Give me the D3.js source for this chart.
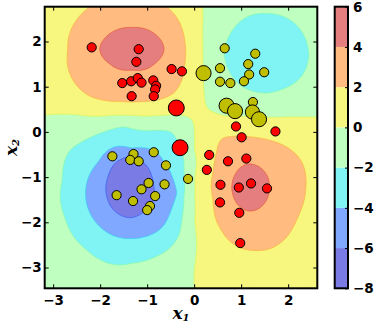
<!DOCTYPE html>
<html>
<head>
<meta charset="utf-8">
<script src="https://cdn.jsdelivr.net/npm/d3@7/dist/d3.min.js"></script>
<style>
  body { margin: 0; background: #fff; }
  text { font-family: "DejaVu Sans", sans-serif; font-weight: bold; }
</style>
</head>
<body>
<div id="main"></div>
<script>
// class +1 samples (red); weight 1 = normal marker, bigger = big marker
const redX = [-2.18, -1.18, -1.23, -0.48, -0.26, -1.53, -1.34, -1.20, -1.12, -0.87, -0.81, -0.83, -0.86, -1.33, -0.38, -0.30,
  0.89, 1.73, 1.01, 0.32, 0.72, 1.11, 0.27, 0.56, 0.95, 1.21, 1.55, 0.55, 0.96, 0.98];
const redY = [1.87, 1.83, 1.55, 1.39, 1.34, 1.08, 1.12, 1.19, 1.09, 1.14, 1.02, 0.94, 0.79, 0.79, 0.53, -0.35,
  0.12, 0.01, -0.12, -0.51, -0.65, -0.59, -0.84, -1.17, -1.23, -1.14, -1.25, -1.56, -1.79, -2.46];
const redW = [1, 1, 1, 1, 1, 1, 1, 1, 1, 1, 1, 1, 1, 1, 3, 3,
  1, 1, 1, 1, 1, 1, 1, 1, 1, 1, 1, 1, 1, 1];

// class -1 samples (olive)
const oliveX = [0.65, 1.30, 1.15, 0.20, 0.55, 1.17, 1.49, 0.55, 0.77, 1.06, 1.25, 0.69, 0.87, 1.24, 1.38,
  -1.74, -1.29, -1.36, -1.18, -0.86, -0.60, -0.13, -0.97, -1.12, -0.63, -1.65, -0.83, -1.30, -0.94, -1.00];
const oliveY = [1.85, 1.73, 1.50, 1.30, 1.41, 1.27, 1.32, 1.11, 1.08, 1.12, 0.66, 0.58, 0.46, 0.44, 0.28,
  -0.54, -0.49, -0.62, -0.65, -0.45, -0.74, -1.04, -1.13, -1.27, -1.16, -1.40, -1.42, -1.53, -1.64, -1.73];
const oliveW = [1, 1, 1, 2.7, 1, 1, 1, 1, 1, 1, 1, 2.7, 2.7, 2.4, 2.7,
  1, 1, 1, 1, 1, 1, 1, 1, 1, 1, 1, 1, 1, 1, 1];

// decision surface values: peaks, points on each filled contour edge, border values
const surfX = [
  -1.32, -1.37, 1.54, 1.2,
  // top-left lobe, level 4 / level 2
  -2.01, -0.64, -1.32, -1.32, -1.80, -0.84, -1.80, -0.84,
  -2.69, -0.18, -1.30, -2.22, -0.58, -2.55, -0.30, -2.55, -2.2, -1.8, -0.8, -0.45, -0.25,
  // top-right lobe, level -2 / level 0
  0.64, 2.44, 1.54, 1.54, 0.9, 2.18, 0.9, 2.18,
  0.18, 0.18, 0.185, 0.19, 0.22, 0.38, 0.7, 1.3, 2.0, 2.62,
  // bottom-left lobe, level -6 / -4 / -2 / 0
  -1.88, -0.86, -1.37, -1.37, -1.73, -1.01, -1.73, -1.01,
  -2.31, -0.37, -1.34, -1.34, -2.03, -0.65, -2.03, -0.65,
  -2.81, -2.64, -1.5, -0.5, -0.22, -0.22, -0.3, -0.8, -1.3, -2.3, -2.75,
  -3.18, -2.5, -1.5, -0.6, -0.15, 0.0, 0.01, 0.015, 0.015, 0.01, 0.0,
  // bottom-right lobe, level 4 / level 2
  0.8, 1.6, 1.2, 1.2, 0.92, 1.48, 0.92, 1.48,
  0.61, 1.2, 1.8, 2.25, 2.38, 2.2, 1.9, 1.25, 0.55, 0.48, 0.40, 0.40,
  // borders
  -3.18, -3.18, -3.18, -3.18, -3.18, -3.18, -1.3, 1.2, 2.62, 2.62, 2.62, 2.62, 2.62, 1.54, 0.0
];
const surfY = [
  1.84, -1.23, 1.74, -1.23,
  1.84, 1.84, 2.31, 1.37, 2.17, 2.17, 1.51, 1.51,
  1.81, 1.80, 0.66, 2.77, 2.77, 2.4, 2.4, 1.1, 0.78, 0.68, 0.70, 0.85, 1.2,
  1.74, 1.74, 2.62, 0.86, 2.36, 2.36, 1.12, 1.12,
  2.77, 2.2, 1.74, 1.2, 0.75, 0.45, 0.35, 0.33, 0.33, 0.33,
  -1.23, -1.23, -0.55, -1.9, -0.75, -0.75, -1.71, -1.71,
  -1.36, -1.36, -0.36, -2.36, -0.65, -0.65, -2.07, -2.07,
  -1.1, -0.41, 0.11, 0.0, -0.6, -1.4, -2.2, -2.75, -2.9, -2.6, -1.9,
  0.37, 0.38, 0.37, 0.37, 0.34, 0.1, -0.4, -1.0, -2.0, -3.0, -3.46,
  -1.23, -1.23, -0.71, -1.75, -0.86, -0.86, -1.6, -1.6,
  -0.14, -0.11, -0.25, -0.6, -1.14, -1.9, -2.4, -2.62, -2.13, -0.44, -0.9, -1.5,
  2.77, 1.8, 1.0, -1.2, -2.5, -3.46, -3.46, -3.46, -3.46, -1.2, 0.0, 1.74, 2.77, 2.77, 2.77
];
const surfV = [
  5.0, -7.0, -3.0, 4.8,
  4, 4, 4, 4, 4, 4, 4, 4,
  2, 2, 2, 2, 2, 2, 2, 2, 2, 2, 2, 2, 2,
  -2, -2, -2, -2, -2, -2, -2, -2,
  0, 0, 0, 0, 0, 0, 0, 0, 0, 0,
  -6, -6, -6, -6, -6, -6, -6, -6,
  -4, -4, -4, -4, -4, -4, -4, -4,
  -2, -2, -2, -2, -2, -2, -2, -2, -2, -2, -2,
  0, 0, 0, 0, 0, 0, 0, 0, 0, 0, 0,
  4, 4, 4, 4, 4, 4, 4, 4,
  2, 2, 2, 2, 2, 2, 2, 2, 2, 2, 2, 2,
  1.0, 1.3, 0.8, -1.4, -1.0, -0.6, -1.4, 1.2, 0.6, 1.5, 0.6, -1.6, -1.2, -1.8, 0.5
];

const levels = [-8, -6, -4, -2, 0, 2, 4, 6];
const levelColors = ["#7b7be6", "#80a8ff", "#80f4f4", "#bfffbf", "#f7f780", "#ffbb80", "#e57f7f"];
const xTicks = [-3, -2, -1, 0, 1, 2];
const yTicks = [-3, -2, -1, 0, 1, 2];

const width = 376, height = 324;
const plot = { left: 44.7, right: 317.3, top: 6.7, bottom: 288.3 };
const bar = { left: 334.7, right: 348 };

const xScale = d3.scaleLinear().domain([-3.18, 2.62]).range([plot.left, plot.right]);
const yScale = d3.scaleLinear().domain([-3.46, 2.77]).range([plot.bottom, plot.top]);
const rScale = d3.scaleSqrt().domain([0, 1]).range([0, 4.6]);
const cScale = d3.scaleLinear().domain([-8, 6]).range([plot.bottom, plot.top]);

// thin plate spline through the read surface values
function tps(xs, ys, vs, smooth) {
  const n = xs.length, m = n + 3;
  const phi = (r2) => (r2 > 0 ? 0.5 * r2 * Math.log(r2) : 0);
  const A = [];
  for (let i = 0; i < m; i++) A.push(new Float64Array(m + 1));
  for (let i = 0; i < n; i++) {
    for (let j = 0; j < n; j++) {
      const ddx = xs[i] - xs[j], ddy = ys[i] - ys[j];
      A[i][j] = phi(ddx * ddx + ddy * ddy) + (i === j ? smooth : 0);
    }
    A[i][n] = 1; A[i][n + 1] = xs[i]; A[i][n + 2] = ys[i];
    A[n][i] = 1; A[n + 1][i] = xs[i]; A[n + 2][i] = ys[i];
    A[i][m] = vs[i];
  }
  for (let c = 0; c < m; c++) {
    let p = c;
    for (let r = c + 1; r < m; r++) if (Math.abs(A[r][c]) > Math.abs(A[p][c])) p = r;
    [A[c], A[p]] = [A[p], A[c]];
    for (let r = 0; r < m; r++) {
      if (r === c) continue;
      const f = A[r][c] / A[c][c];
      if (f === 0) continue;
      for (let k = c; k <= m; k++) A[r][k] -= f * A[c][k];
    }
  }
  const w = A.map((row, i) => row[m] / row[i]);
  return (x, y) => {
    let v = w[n] + w[n + 1] * x + w[n + 2] * y;
    for (let i = 0; i < n; i++) {
      const ddx = x - xs[i], ddy = y - ys[i];
      v += w[i] * phi(ddx * ddx + ddy * ddy);
    }
    return Math.max(-7.95, Math.min(5.95, v));
  };
}
const field = tps(surfX, surfY, surfV, 0.004);

// edge of a translucent band: its full colour laid over the band below
function edgeColor(k) {
  if (k === 0) return "none";
  const hi = d3.rgb(levelColors[k]), lo = d3.rgb(levelColors[k - 1]);
  const sat = (c) => Math.max(0, 2 * c - 255);
  return d3.rgb((sat(hi.r) + lo.r) / 2, (sat(hi.g) + lo.g) / 2, (sat(hi.b) + lo.b) / 2).formatHex();
}

const svg = d3.select("#main").append("svg")
  .attr("width", width)
  .attr("height", height);

svg.append("clipPath").attr("id", "clip")
  .append("rect")
  .attr("x", plot.left).attr("y", plot.top)
  .attr("width", plot.right - plot.left).attr("height", plot.bottom - plot.top);

// filled contours
const [x0, x1] = xScale.domain();
const [y0, y1] = yScale.domain();
const nx = 180, ny = 190;
const dx = (x1 - x0) / nx, dy = (y1 - y0) / ny;
const values = new Array(nx * ny);
for (let j = 0; j < ny; j++) {
  for (let i = 0; i < nx; i++) {
    values[j * nx + i] = field(x0 + (i + 0.5) * dx, y1 - (j + 0.5) * dy);
  }
}
const bands = d3.contours().size([nx, ny]).thresholds(levels.slice(0, -1))(values);
const gridToPx = d3.geoTransform({
  point(gx, gy) { this.stream.point(xScale(x0 + gx * dx), yScale(y1 - gy * dy)); }
});
const path = d3.geoPath(gridToPx);

svg.append("g")
  .attr("clip-path", "url(#clip)")
  .selectAll("path")
  .data(bands)
  .enter()
  .append("path")
  .attr("d", path)
  .attr("fill", (d) => levelColors[levels.indexOf(d.value)])
  .attr("stroke", (d) => edgeColor(levels.indexOf(d.value)))
  .attr("stroke-width", 0.8);

// samples
const redPts = redX.map((x, i) => ({ x, y: redY[i], w: redW[i] }));
const olivePts = oliveX.map((x, i) => ({ x, y: oliveY[i], w: oliveW[i] }));

const ptsG = svg.append("g").attr("clip-path", "url(#clip)");
ptsG.selectAll("circle.olive")
  .data(olivePts)
  .enter()
  .append("circle")
  .attr("class", "olive")
  .attr("cx", (d) => xScale(d.x))
  .attr("cy", (d) => yScale(d.y))
  .attr("r", (d) => rScale(d.w))
  .attr("fill", "#bfbf00")
  .attr("stroke", "#000")
  .attr("stroke-width", 1);
ptsG.selectAll("circle.red")
  .data(redPts)
  .enter()
  .append("circle")
  .attr("class", "red")
  .attr("cx", (d) => xScale(d.x))
  .attr("cy", (d) => yScale(d.y))
  .attr("r", (d) => rScale(d.w))
  .attr("fill", "#ff0000")
  .attr("stroke", "#000")
  .attr("stroke-width", 1);

// axes, ticks pointing inward on every side
const fontSize = 13.5;
const fmt = d3.format("d");
function styleAxis(g) {
  g.select(".domain").remove();
  g.selectAll(".tick line").attr("stroke", "#000").attr("stroke-width", 1);
  g.selectAll(".tick text").attr("fill", "#000").style("font-size", fontSize + "px");
}
svg.append("g")
  .attr("transform", `translate(0, ${plot.bottom})`)
  .call(d3.axisBottom(xScale).tickValues(xTicks).tickFormat(fmt).tickSizeInner(-4).tickSizeOuter(0).tickPadding(7))
  .call(styleAxis);
svg.append("g")
  .attr("transform", `translate(0, ${plot.top})`)
  .call(d3.axisTop(xScale).tickValues(xTicks).tickSizeInner(-4).tickSizeOuter(0).tickFormat(""))
  .call(styleAxis);
svg.append("g")
  .attr("transform", `translate(${plot.left}, 0)`)
  .call(d3.axisLeft(yScale).tickValues(yTicks).tickFormat(fmt).tickSizeInner(-4).tickSizeOuter(0).tickPadding(3))
  .call(styleAxis);
svg.append("g")
  .attr("transform", `translate(${plot.right}, 0)`)
  .call(d3.axisRight(yScale).tickValues(yTicks).tickSizeInner(-4).tickSizeOuter(0).tickFormat(""))
  .call(styleAxis);

svg.append("rect")
  .attr("x", plot.left).attr("y", plot.top)
  .attr("width", plot.right - plot.left).attr("height", plot.bottom - plot.top)
  .attr("fill", "none").attr("stroke", "#000").attr("stroke-width", 2);

// axis titles
const xt = svg.append("text")
  .attr("x", (plot.left + plot.right) / 2)
  .attr("y", 319)
  .attr("text-anchor", "middle")
  .style("font-family", "'DejaVu Serif', serif")
  .style("font-style", "italic")
  .style("font-size", "17px");
xt.append("tspan").text("x");
xt.append("tspan").attr("dy", 2).style("font-size", "10px").text("1");

const yt = svg.append("text")
  .attr("transform", `translate(17, ${(plot.top + plot.bottom) / 2}) rotate(-90)`)
  .attr("text-anchor", "middle")
  .style("font-family", "'DejaVu Serif', serif")
  .style("font-style", "italic")
  .style("font-size", "17px");
yt.append("tspan").text("x");
yt.append("tspan").attr("dy", 2).style("font-size", "10px").text("2");

// colorbar
const barData = levelColors.map((c, i) => ({ lo: levels[i], hi: levels[i + 1], c }));
svg.append("g")
  .selectAll("rect")
  .data(barData)
  .enter()
  .append("rect")
  .attr("x", bar.left)
  .attr("width", bar.right - bar.left)
  .attr("y", (d) => cScale(d.hi))
  .attr("height", (d) => cScale(d.lo) - cScale(d.hi))
  .attr("fill", (d) => d.c);

svg.append("g")
  .attr("transform", `translate(${bar.right}, 0)`)
  .call(d3.axisRight(cScale).tickValues(levels).tickFormat(fmt).tickSizeInner(-3).tickSizeOuter(0).tickPadding(5))
  .call(styleAxis);

svg.append("rect")
  .attr("x", bar.left).attr("y", plot.top)
  .attr("width", bar.right - bar.left).attr("height", plot.bottom - plot.top)
  .attr("fill", "none").attr("stroke", "#000").attr("stroke-width", 2);
</script>
</body>
</html>
